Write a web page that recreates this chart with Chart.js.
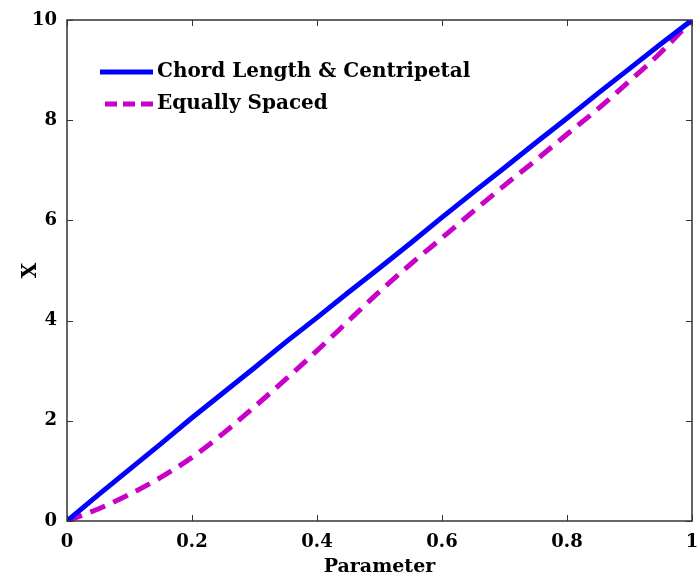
<!DOCTYPE html>
<html>
<head>
<meta charset="utf-8">
<script src="https://cdn.jsdelivr.net/npm/chart.js@4/dist/chart.umd.min.js"></script>
<style>
  html, body { margin: 0; padding: 0; background: #fff; }
  #wrap { width: 699px; height: 577px; }
</style>
</head>
<body>
<div id="wrap"><canvas id="myChart" width="699" height="577"></canvas></div>
<script>
// parameter values along the curve
var param = [0, 0.05, 0.1, 0.15, 0.2, 0.25, 0.3, 0.35, 0.4, 0.45, 0.5,
             0.55, 0.6, 0.65, 0.7, 0.75, 0.8, 0.85, 0.9, 0.95, 1];
// X for chord length / centripetal parameterisation
var chordX = [0, 0.52, 1.03, 1.54, 2.06, 2.56, 3.06, 3.57, 4.06, 4.56, 5.05,
              5.55, 6.06, 6.56, 7.05, 7.55, 8.04, 8.54, 9.03, 9.52, 10];
// X for equally spaced parameterisation
var equalX = [0, 0.24, 0.53, 0.87, 1.27, 1.75, 2.28, 2.83, 3.4, 3.99, 4.58,
              5.13, 5.65, 6.18, 6.7, 7.2, 7.72, 8.23, 8.78, 9.35, 10];
var seriesNames = ["Chord Length & Centripetal", "Equally Spaced"];
var xTicks = [0, 0.2, 0.4, 0.6, 0.8, 1];
var yTicks = [0, 2, 4, 6, 8, 10];

var serif = "'DejaVu Serif', 'Liberation Serif', serif";

function toPoints(xs, ys) {
    var pts = [];
    for (var i = 0; i < xs.length; i++) {
        pts.push({x: xs[i], y: ys[i]});
    }
    return pts;
}

// box round the plot with inward ticks on all four sides
var boxPlugin = {
    id: 'box',
    afterDatasetsDraw: function(chart) {
        var ctx = chart.ctx, a = chart.chartArea;
        var xs = chart.scales.x, ys = chart.scales.y;
        ctx.save();
        ctx.strokeStyle = '#333';
        ctx.lineWidth = 1;
        ctx.beginPath();
        xTicks.forEach(function(v) {
            var px = Math.round(xs.getPixelForValue(v)) + 0.5;
            ctx.moveTo(px, a.bottom); ctx.lineTo(px, a.bottom - 6);
            ctx.moveTo(px, a.top); ctx.lineTo(px, a.top + 6);
        });
        yTicks.forEach(function(v) {
            var py = Math.round(ys.getPixelForValue(v)) + 0.5;
            ctx.moveTo(a.left, py); ctx.lineTo(a.left + 6, py);
            ctx.moveTo(a.right, py); ctx.lineTo(a.right - 6, py);
        });
        ctx.stroke();
        ctx.lineWidth = 1.5;
        ctx.strokeRect(a.left, a.top, a.right - a.left, a.bottom - a.top);
        ctx.restore();
    }
};

// legend drawn inside the plot, upper left
var legendPlugin = {
    id: 'insideLegend',
    afterDatasetsDraw: function(chart) {
        var ctx = chart.ctx;
        var x0 = 100, x1 = 153, y0 = 72, dy = 32;
        ctx.save();
        ctx.font = 'bold 20px ' + serif;
        ctx.textBaseline = 'middle';
        chart.data.datasets.forEach(function(ds, i) {
            var y = y0 + i * dy;
            ctx.strokeStyle = ds.borderColor;
            ctx.lineWidth = ds.borderWidth;
            ctx.setLineDash(ds.borderDash ? [12, 6] : []);
            ctx.beginPath();
            ctx.moveTo(ds.borderDash ? x0 + 5 : x0, y);
            ctx.lineTo(x1, y);
            ctx.stroke();
            ctx.setLineDash([]);
            ctx.fillStyle = '#000';
            ctx.fillText(ds.label, x1 + 4, y);
        });
        ctx.restore();
    }
};

var ctx = document.getElementById('myChart').getContext('2d');
var chart = new Chart(ctx, {
    type: 'line',
    data: {
        datasets: [
            {
                label: seriesNames[0],
                data: toPoints(param, chordX),
                borderColor: '#0000ff',
                borderWidth: 5,
                pointRadius: 0,
                tension: 0,
                fill: false
            },
            {
                label: seriesNames[1],
                data: toPoints(param, equalX),
                borderColor: '#c800c8',
                borderWidth: 5,
                borderDash: [16, 9],
                borderCapStyle: 'butt',
                pointRadius: 0,
                cubicInterpolationMode: 'monotone',
                fill: false
            }
        ]
    },
    options: {
        responsive: false,
        animation: false,
        layout: { padding: { top: 20, right: 7, left: 0, bottom: 0 } },
        plugins: {
            legend: { display: false },
            tooltip: { enabled: false }
        },
        scales: {
            x: {
                type: 'linear',
                min: 0, max: 1,
                afterBuildTicks: function(scale) {
                    scale.ticks = xTicks.map(function(v) { return {value: v}; });
                },
                afterFit: function(scale) {
                    scale.height = 56;
                    scale.paddingLeft = 0;
                    scale.paddingRight = 0;
                },
                grid: { display: false, drawTicks: false },
                border: { display: false },
                ticks: {
                    padding: 11,
                    color: '#000',
                    maxRotation: 0,
                    font: { family: serif, size: 18, weight: 'bold' },
                    callback: function(v) { return String(v); }
                },
                title: {
                    display: true,
                    text: 'Parameter',
                    color: '#000',
                    padding: { top: 0, bottom: -1 },
                    font: { family: serif, size: 19, weight: 'bold' }
                }
            },
            y: {
                min: 0, max: 10,
                afterBuildTicks: function(scale) {
                    scale.ticks = yTicks.map(function(v) { return {value: v}; });
                },
                afterFit: function(scale) {
                    scale.width = 67;
                    scale.paddingTop = 0;
                    scale.paddingBottom = 0;
                },
                grid: { display: false, drawTicks: false },
                border: { display: false },
                ticks: {
                    padding: 10,
                    color: '#000',
                    font: { family: serif, size: 18, weight: 'bold' }
                },
                title: {
                    display: true,
                    text: 'X',
                    color: '#000',
                    padding: { top: 19, bottom: 0 },
                    font: { family: serif, size: 20, weight: 'bold' }
                }
            }
        }
    },
    plugins: [boxPlugin, legendPlugin]
});
</script>
</body>
</html>
